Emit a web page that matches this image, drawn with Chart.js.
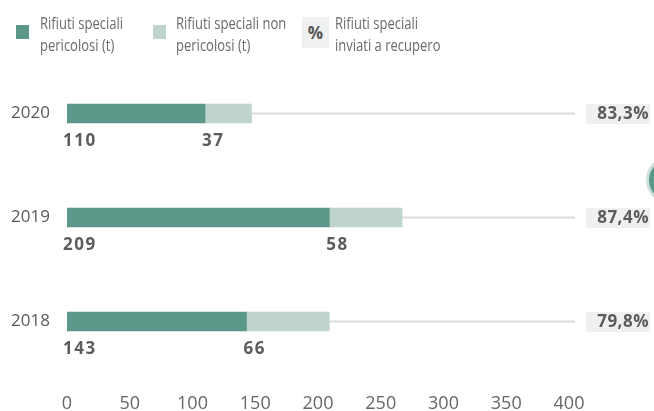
<!DOCTYPE html>
<html>
<head>
<meta charset="utf-8">
<script src="https://cdn.jsdelivr.net/npm/chart.js@4"></script>
<style>
  body { margin: 0; background: #fff; font-family: "Open Sans", sans-serif; }
  #wrap { position: relative; width: 654px; height: 411px; overflow: hidden; }
  canvas { position: absolute; left: 0; top: 0; }
  .key { position: absolute; top: 12px; color: #6a6a6a; font-size: 15.5px; line-height: 22px;
         white-space: nowrap; transform: scaleX(0.84); transform-origin: left top; }
  .sw { position: absolute; width: 13px; height: 14px; }
  .pct { position: absolute; left: 302px; top: 17px; width: 27px; height: 31px; background: #eef1ef;
         color: #555; font-weight: bold; font-size: 17px; line-height: 31px; text-align: center; }
  .dot { position: absolute; left: 646px; top: 156px; width: 42px; height: 42px; border-radius: 50%;
         background: #5b9889; border: 3px solid #cfe0da; }
</style>
</head>
<body>
<div id="wrap">
  <canvas id="chart" width="654" height="411"></canvas>
  <div class="sw" style="left:16px;top:25px;background:#5b9889"></div>
  <div class="key" style="left:40px">Rifiuti speciali<br>pericolosi (t)</div>
  <div class="sw" style="left:153px;top:25px;background:#bfd4cc"></div>
  <div class="key" style="left:176px">Rifiuti speciali non<br>pericolosi (t)</div>
  <div class="pct">%</div>
  <div class="key" style="left:335px">Rifiuti speciali<br>inviati a recupero</div>
  <div class="dot"></div>
</div>
<script>
const years = ['2020', '2019', '2018'];
const pericolosi = [110, 209, 143];
const nonPericolosi = [37, 58, 66];
const recupero = [83.3, 87.4, 79.8];
const xTicks = [0, 50, 100, 150, 200, 250, 300, 350, 400];

// grey track behind each bar, value labels under it, % box on the right
const extras = {
  id: 'extras',
  beforeDatasetsDraw(chart) {
    const ctx = chart.ctx;
    const x = chart.scales.x;
    ctx.save();
    ctx.strokeStyle = '#dcdcdc';
    ctx.lineWidth = 2;
    chart.getDatasetMeta(0).data.forEach(function (bar) {
      ctx.beginPath();
      ctx.moveTo(x.getPixelForValue(0), bar.y);
      ctx.lineTo(chart.chartArea.right + 6, bar.y);
      ctx.stroke();
    });
    ctx.restore();
  },
  afterDatasetsDraw(chart) {
    const ctx = chart.ctx;
    const right = chart.chartArea.right;
    ctx.save();
    ctx.font = 'bold 17px "Open Sans"';
    ctx.letterSpacing = '1.5px';
    ctx.fillStyle = '#5c5c5c';
    ctx.textBaseline = 'middle';
    chart.data.datasets.forEach(function (ds, di) {
      chart.getDatasetMeta(di).data.forEach(function (bar, i) {
        const left = Math.min(bar.x, bar.base);
        ctx.textAlign = 'left';
        ctx.fillText(String(ds.data[i]), left - 4 + (di ? 1 : 0), bar.y + 28);
      });
    });
    ctx.letterSpacing = '0.5px';
    chart.getDatasetMeta(0).data.forEach(function (bar, i) {
      ctx.fillStyle = '#eef1ef';
      ctx.fillRect(right + 17, bar.y - 9.5, 64, 20);
      ctx.fillStyle = '#5c5c5c';
      ctx.textAlign = 'right';
      ctx.fillText(recupero[i].toFixed(1).replace('.', ',') + '%', right + 80, bar.y + 1);
    });
    ctx.restore();
  }
};

new Chart(document.getElementById('chart'), {
  type: 'bar',
  data: {
    labels: years,
    datasets: [
      { label: 'Rifiuti speciali pericolosi (t)', data: pericolosi, backgroundColor: '#5b9889' },
      { label: 'Rifiuti speciali non pericolosi (t)', data: nonPericolosi, backgroundColor: '#bfd4cc' }
    ]
  },
  options: {
    indexAxis: 'y',
    responsive: false,
    animation: false,
    barThickness: 19,
    layout: { padding: { top: 61.5, right: 85, bottom: 0, left: 0 } },
    plugins: { legend: { display: false }, tooltip: { enabled: false } },
    scales: {
      x: {
        stacked: true,
        min: 0,
        max: 400,
        afterBuildTicks(scale) { scale.ticks = xTicks.map(function (v) { return { value: v }; }); },
        afterFit(scale) { scale.height = 37.5; },
        grid: { display: false, drawTicks: false },
        border: { display: false },
        ticks: { padding: 20, color: '#666', font: { family: 'Open Sans', size: 18 } }
      },
      y: {
        stacked: true,
        afterFit(scale) { scale.width = 67; },
        grid: { display: false, drawTicks: false },
        border: { display: false },
        ticks: { padding: 17, color: '#5a5a5a', font: { family: 'Open Sans', size: 17 } }
      }
    }
  },
  plugins: [extras]
});
</script>
</body>
</html>
